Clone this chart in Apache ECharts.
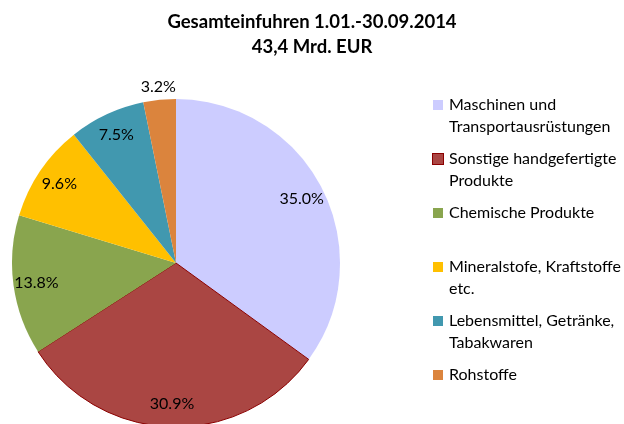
<!DOCTYPE html>
<html>
<head>
<meta charset="utf-8">
<script src="https://cdn.jsdelivr.net/npm/echarts@6/dist/echarts.min.js"></script>
<style>html,body{margin:0;padding:0;background:#fff;}#c{width:624px;height:424px;}</style>
</head>
<body>
<div id="c"></div>
<script>
var titleLines = ['Gesamteinfuhren 1.01.-30.09.2014', '43,4 Mrd. EUR'];
var categories = ['Maschinen und Transportausrüstungen', 'Sonstige handgefertigte Produkte', 'Chemische Produkte', 'Mineralstofe, Kraftstoffe etc.', 'Lebensmittel, Getränke, Tabakwaren', 'Rohstoffe'];
var legendLines = [
  ['Maschinen und', 'Transportausrüstungen'],
  ['Sonstige handgefertigte', 'Produkte'],
  ['Chemische Produkte', ''],
  ['Mineralstofe, Kraftstoffe', 'etc.'],
  ['Lebensmittel, Getränke,', 'Tabakwaren'],
  ['Rohstoffe', '']
];
var values = [35.0, 30.9, 13.8, 9.6, 7.5, 3.2];
var colors = ['#CCCCFF', '#AA4643', '#89A54E', '#FFC000', '#4198AF', '#DB843D'];
var outsideLabel = [false, false, false, false, false, true];

var FONT = 'Lato';
var chart = echarts.init(document.getElementById('c'), null, {renderer: 'canvas'});

var rich = { ind: { width: 16 } };
colors.forEach(function (c, i) {
  rich['s' + i] = { width: 10, height: 10, backgroundColor: c, borderColor: i === 1 ? '#8B0000' : c, borderWidth: i === 1 ? 1 : 0 };
});
rich.gap = { width: 6 };

var mainData = categories.map(function (n, i) {
  var d = { name: n, value: values[i], itemStyle: { color: colors[i] } };
  if (i === 1) { d.itemStyle.borderColor = '#8B0000'; d.itemStyle.borderWidth = 1; }
  return d;
});
function labelData(showOutside) {
  return categories.map(function (n, i) {
    return { name: n, value: values[i], label: { show: outsideLabel[i] === showOutside } };
  });
}
var labelCommon = {
  position: 'inside',
  fontFamily: FONT, fontSize: 16, color: '#000',
  formatter: function (p) { return p.value.toFixed(1) + '%'; }
};

chart.setOption({
  animation: false,
  backgroundColor: '#fff',
  title: {
    text: titleLines.join('\n'),
    left: 'center', top: 10, padding: 0,
    textStyle: { fontFamily: FONT, fontWeight: 'bold', fontSize: 18.5, lineHeight: 25, color: '#000' }
  },
  legend: {
    orient: 'vertical', left: 428, top: 94, padding: 0,
    icon: 'none', itemWidth: 0, itemHeight: 10, itemGap: 10,
    data: categories,
    selectedMode: false,
    textStyle: { fontFamily: FONT, fontSize: 16, color: '#000', lineHeight: 22, rich: rich },
    formatter: function (name) {
      var i = categories.indexOf(name);
      var l = legendLines[i];
      return '{s' + i + '| }{gap|}' + l[0] + '\n{ind|}' + (l[1] || ' ');
    }
  },
  series: [
    {
      type: 'pie', center: [176, 263], radius: [0, 164], startAngle: 90, clockwise: true,
      label: { show: false }, labelLine: { show: false }, silent: true,
      data: mainData
    },
    {
      type: 'pie', center: [176, 263], radius: [112, 164], startAngle: 90, clockwise: true,
      itemStyle: { color: 'rgba(0,0,0,0)' }, silent: true,
      label: labelCommon, labelLine: { show: false },
      data: labelData(false)
    },
    {
      type: 'pie', center: [176, 263], radius: [148, 200], startAngle: 90, clockwise: true,
      itemStyle: { color: 'rgba(0,0,0,0)' }, silent: true,
      label: labelCommon, labelLine: { show: false },
      data: labelData(true)
    }
  ]
});
</script>
</body>
</html>
